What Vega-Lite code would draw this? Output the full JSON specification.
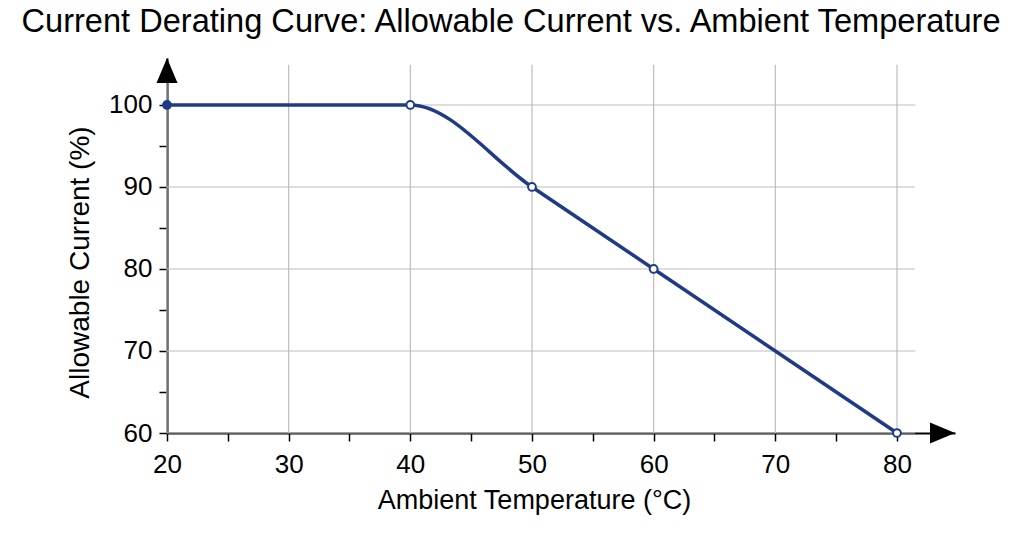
{
  "$schema": "https://vega.github.io/schema/vega-lite/v6.json",
  "width": 788,
  "height": 375,
  "autosize": {"type": "none"},
  "padding": {"left": 167, "top": 58, "right": 69, "bottom": 126},
  "background": "white",
  "title": {
    "text": "Current Derating Curve: Allowable Current vs. Ambient Temperature",
    "font": "Liberation Sans",
    "fontSize": 32.6,
    "fontWeight": "normal",
    "color": "black",
    "anchor": "middle",
    "frame": "group",
    "baseline": "alphabetic",
    "offset": -7,
    "dx": -50
  },
  "config": {
    "view": {"stroke": null},
    "axis": {
      "labelFont": "Liberation Sans",
      "titleFont": "Liberation Sans",
      "labelColor": "black",
      "titleColor": "black",
      "titleFontWeight": "normal",
      "grid": false,
      "domainColor": "black",
      "domainWidth": 2,
      "tickColor": "black",
      "tickWidth": 1.5
    }
  },
  "datasets": {
    "curve": [
      {"temp": 20, "current": 100},
      {"temp": 40, "current": 100},
      {"temp": 50, "current": 90},
      {"temp": 60, "current": 80},
      {"temp": 80, "current": 60}
    ],
    "vgrid": [
      {"temp": 20}, {"temp": 30}, {"temp": 40}, {"temp": 50},
      {"temp": 60}, {"temp": 70}, {"temp": 80}
    ],
    "hgrid": [
      {"current": 60}, {"current": 70}, {"current": 80},
      {"current": 90}, {"current": 100}
    ],
    "xarrow": [{"temp": 84.77, "current": 60}],
    "yarrow": [{"temp": 20, "current": 105.73}]
  },
  "layer": [
    {
      "data": {"name": "vgrid"},
      "mark": {"type": "rule", "color": "#bdbdbd", "strokeWidth": 1.2},
      "encoding": {
        "x": {"field": "temp", "type": "quantitative", "scale": {"domain": [20, 84.77], "nice": false, "zero": false}},
        "y": {"datum": 60, "type": "quantitative", "scale": {"domain": [60, 105.73], "nice": false, "zero": false}},
        "y2": {"datum": 104.9}
      }
    },
    {
      "data": {"name": "hgrid"},
      "mark": {"type": "rule", "color": "#bdbdbd", "strokeWidth": 1.2},
      "encoding": {
        "y": {"field": "current", "type": "quantitative", "scale": {"domain": [60, 105.73], "nice": false, "zero": false}},
        "x": {"datum": 20, "type": "quantitative", "scale": {"domain": [20, 84.77], "nice": false, "zero": false}},
        "x2": {"datum": 81.5}
      }
    },
    {
      "data": {"name": "curve"},
      "mark": {"type": "line", "interpolate": "monotone", "color": "#1f3a87", "strokeWidth": 3.5},
      "encoding": {
        "x": {
          "field": "temp", "type": "quantitative",
          "scale": {"domain": [20, 84.77], "nice": false, "zero": false},
          "axis": {
            "title": "Ambient Temperature (°C)",
            "values": [20, 25, 30, 35, 40, 45, 50, 55, 60, 65, 70, 75, 80],
            "labelExpr": "datum.value % 10 === 0 ? datum.label : ''",
            "labelFontSize": 26,
            "titleFontSize": 27,
            "tickSize": 8,
            "labelPadding": 31,
            "labelBaseline": "alphabetic",
            "labelFlush": false,
            "titleX": 367,
            "titleY": 75,
            "titleBaseline": "alphabetic",
            "titleAlign": "center"
          }
        },
        "y": {
          "field": "current", "type": "quantitative",
          "scale": {"domain": [60, 105.73], "nice": false, "zero": false},
          "axis": {
            "title": "Allowable Current (%)",
            "values": [60, 65, 70, 75, 80, 85, 90, 95, 100],
            "labelExpr": "datum.value % 10 === 0 ? datum.label : ''",
            "labelFontSize": 26,
            "titleFontSize": 28,
            "tickSize": 8,
            "labelPadding": 7,
            "labelBaseline": "middle",
            "labelFlush": false,
            "titleX": -87,
            "titleY": 204,
            "titleBaseline": "middle",
            "titleAngle": -90,
            "titleAlign": "center"
          }
        }
      }
    },
    {
      "data": {"name": "curve"},
      "mark": {"type": "point", "shape": "circle", "size": 60, "strokeWidth": 2, "stroke": "#1f3a87", "opacity": 1},
      "encoding": {
        "x": {"field": "temp", "type": "quantitative", "scale": {"domain": [20, 84.77], "nice": false, "zero": false}},
        "y": {"field": "current", "type": "quantitative", "scale": {"domain": [60, 105.73], "nice": false, "zero": false}},
        "fill": {"condition": {"test": "datum.temp === 20", "value": "#1f3a87"}, "value": "white"}
      }
    },
    {
      "data": {"name": "xarrow"},
      "mark": {"type": "point", "shape": "M0,0 L-2,-0.84 L-2,0.84 Z", "size": 625, "filled": true, "color": "black", "opacity": 1},
      "encoding": {
        "x": {"field": "temp", "type": "quantitative", "scale": {"domain": [20, 84.77], "nice": false, "zero": false}},
        "y": {"field": "current", "type": "quantitative", "scale": {"domain": [60, 105.73], "nice": false, "zero": false}}
      }
    },
    {
      "data": {"name": "yarrow"},
      "mark": {"type": "point", "shape": "M0,0 L0.84,2 L-0.84,2 Z", "size": 625, "filled": true, "color": "black", "opacity": 1},
      "encoding": {
        "x": {"field": "temp", "type": "quantitative", "scale": {"domain": [20, 84.77], "nice": false, "zero": false}},
        "y": {"field": "current", "type": "quantitative", "scale": {"domain": [60, 105.73], "nice": false, "zero": false}}
      }
    }
  ]
}
